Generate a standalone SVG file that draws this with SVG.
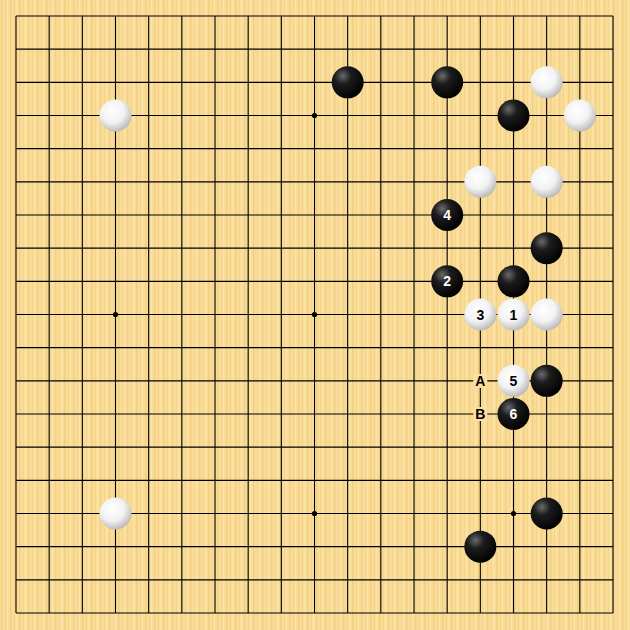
<svg xmlns="http://www.w3.org/2000/svg" width="630" height="630" viewBox="0 0 630 630">
<defs>
<pattern id="wood" width="9" height="630" patternUnits="userSpaceOnUse">
<rect width="9" height="630" fill="#F9DC98"/>
<rect x="1" width="1.5" height="630" fill="#F4CF80"/>
<rect x="5" width="1" height="630" fill="#F6D58A"/>
<rect x="7" width="1" height="630" fill="#FCE5AC"/>
</pattern>
<radialGradient id="gb" cx="0.35" cy="0.3" r="0.75">
<stop offset="0" stop-color="#6a6a6a"/>
<stop offset="0.35" stop-color="#1c1c1c"/>
<stop offset="1" stop-color="#000"/>
</radialGradient>
<radialGradient id="gw" cx="0.4" cy="0.35" r="0.75">
<stop offset="0" stop-color="#ffffff"/>
<stop offset="0.5" stop-color="#f2f2f2"/>
<stop offset="1" stop-color="#aaaaaa"/>
</radialGradient>
<style>
.b{fill:url(#gb);}
.w{fill:url(#gw);}
.n{font-family:"Liberation Sans",Arial,sans-serif;font-weight:bold;font-size:14px;text-anchor:middle;}
.nb{fill:#fff;}
.nw{fill:#000;}
.star{fill:#000;}
.mk{fill:#FAE0A4;}
</style>
</defs>
<rect width="630" height="630" fill="url(#wood)"/>
<g id="grid" stroke="#000" stroke-width="1.1" fill="none">
<path d="M16 16V613M49.17 16V613M82.33 16V613M115.5 16V613M148.67 16V613M181.83 16V613M215 16V613M248.17 16V613M281.33 16V613M314.5 16V613M347.67 16V613M380.83 16V613M414 16V613M447.17 16V613M480.33 16V613M513.5 16V613M546.67 16V613M579.83 16V613M613 16V613"/>
<path d="M16 16H613M16 49.17H613M16 82.33H613M16 115.5H613M16 148.67H613M16 181.83H613M16 215H613M16 248.17H613M16 281.33H613M16 314.5H613M16 347.67H613M16 380.83H613M16 414H613M16 447.17H613M16 480.33H613M16 513.5H613M16 546.67H613M16 579.83H613M16 613H613"/>
</g>
<g id="stars">
<circle class="star" cx="314.5" cy="115.5" r="2.6"/>
<circle class="star" cx="115.5" cy="314.5" r="2.6"/>
<circle class="star" cx="314.5" cy="314.5" r="2.6"/>
<circle class="star" cx="314.5" cy="513.5" r="2.6"/>
<circle class="star" cx="513.5" cy="513.5" r="2.6"/>
</g>
<g id="stones">
<circle class="b" cx="347.67" cy="82.33" r="16"/>
<circle class="b" cx="447.17" cy="82.33" r="16"/>
<circle class="w" cx="546.67" cy="82.33" r="16"/>
<circle class="w" cx="115.5" cy="115.5" r="16"/>
<circle class="b" cx="513.5" cy="115.5" r="16"/>
<circle class="w" cx="579.83" cy="115.5" r="16"/>
<circle class="w" cx="480.33" cy="181.83" r="16"/>
<circle class="w" cx="546.67" cy="181.83" r="16"/>
<circle class="b" cx="546.67" cy="248.17" r="16"/>
<circle class="b" cx="513.5" cy="281.33" r="16"/>
<circle class="w" cx="546.67" cy="314.5" r="16"/>
<circle class="b" cx="546.67" cy="380.83" r="16"/>
<circle class="w" cx="115.5" cy="513.5" r="16"/>
<circle class="b" cx="546.67" cy="513.5" r="16"/>
<circle class="b" cx="480.33" cy="546.67" r="16"/>
</g>
<g id="m1"><circle class="w" cx="513.5" cy="314.5" r="16"/><text class="n nw" x="513.5" y="319.5">1</text></g>
<g id="m2"><circle class="b" cx="447.17" cy="281.33" r="16"/><text class="n nb" x="447.17" y="286.33">2</text></g>
<g id="m3"><circle class="w" cx="480.33" cy="314.5" r="16"/><text class="n nw" x="480.33" y="319.5">3</text></g>
<g id="m4"><circle class="b" cx="447.17" cy="215" r="16"/><text class="n nb" x="447.17" y="220">4</text></g>
<g id="m5"><circle class="w" cx="513.5" cy="380.83" r="16"/><text class="n nw" x="513.5" y="385.83">5</text></g>
<g id="m6"><circle class="b" cx="513.5" cy="414" r="16"/><text class="n nb" x="513.5" y="419">6</text></g>
<g id="lA"><rect class="mk" x="473.33" y="373.83" width="14" height="14"/><text class="n nw" x="480.33" y="385.83">A</text></g>
<g id="lB"><rect class="mk" x="473.33" y="407" width="14" height="14"/><text class="n nw" x="480.33" y="419">B</text></g>
</svg>
